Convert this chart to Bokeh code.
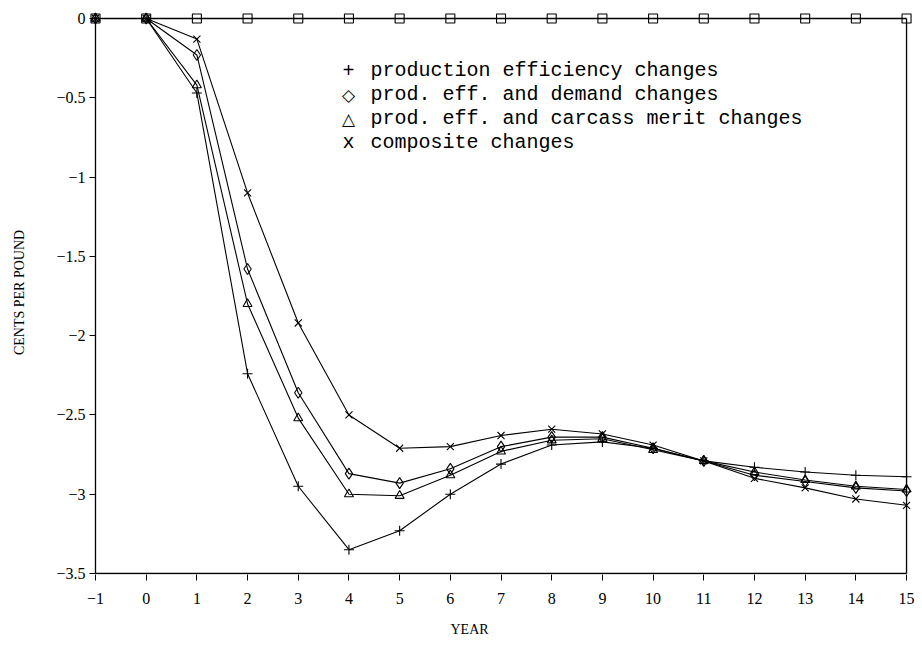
from bokeh.plotting import figure
from bokeh.models import Range1d, FixedTicker, Label, Title
from bokeh.embed import file_html
from bokeh.resources import INLINE

years = list(range(-1, 16))
prod_eff = [0, 0, -0.47, -2.24, -2.95, -3.35, -3.23, -3.00, -2.81, -2.69, -2.67, -2.71, -2.79, -2.83, -2.86, -2.88, -2.89]
prod_demand = [0, 0, -0.23, -1.58, -2.36, -2.87, -2.93, -2.84, -2.70, -2.64, -2.64, -2.71, -2.79, -2.88, -2.92, -2.96, -2.98]
prod_carcass = [0, 0, -0.42, -1.80, -2.52, -3.00, -3.01, -2.88, -2.73, -2.66, -2.65, -2.72, -2.79, -2.86, -2.91, -2.95, -2.97]
composite = [0, 0, -0.13, -1.10, -1.92, -2.50, -2.71, -2.70, -2.63, -2.59, -2.62, -2.69, -2.79, -2.90, -2.96, -3.03, -3.07]
baseline = [0] * 17

x_ticks = list(range(-1, 16))
x_labels = ["\u22121"] + [str(v) for v in range(0, 16)]
y_ticks = [0, -0.5, -1, -1.5, -2, -2.5, -3, -3.5]
y_labels = ["0", "\u22120.5", "\u22121", "\u22121.5", "\u22122", "\u22122.5", "\u22123", "\u22123.5"]

legend_symbols = ["+", "\u25C7", "\u25B3", "x"]
legend_texts = ["production efficiency changes", "prod. eff. and demand changes",
                "prod. eff. and carcass merit changes", "composite changes"]

xs, ys = 50.69, 158.57
x0 = -1 - 6 / xs
x1 = x0 + 823 / xs
y1 = 8 / ys
y0 = y1 - 564 / ys

p = figure(frame_width=823, frame_height=564, min_border_left=89, min_border_right=8,
           min_border_top=10, min_border_bottom=75,
           x_range=Range1d(x0, x1), y_range=Range1d(y0, y1),
           output_backend="svg", toolbar_location=None)
p.outline_line_color = None
p.grid.grid_line_color = None
p.background_fill_color = "white"

serif = "Liberation Serif"
for ax in (p.xaxis[0], p.yaxis[0]):
    ax.axis_line_color = None
    ax.minor_tick_line_color = None
    ax.major_tick_line_color = "black"
    ax.major_label_text_font = serif
    ax.major_label_text_font_size = "16px"
    ax.major_label_text_color = "black"

p.xaxis.ticker = FixedTicker(ticks=x_ticks)
p.xaxis.major_label_overrides = {t: l for t, l in zip(x_ticks, x_labels)}
p.xaxis.major_tick_out = 6
p.xaxis.major_tick_in = 0
p.xaxis.major_label_standoff = 12

p.yaxis.ticker = FixedTicker(ticks=y_ticks)
p.yaxis.major_label_overrides = {t: l for t, l in zip(y_ticks, y_labels)}
p.yaxis.major_tick_out = 0
p.yaxis.major_tick_in = 6
p.yaxis.major_label_standoff = 4
p.yaxis.axis_label = "CENTS PER POUND"
p.yaxis.axis_label_text_font = serif
p.yaxis.axis_label_text_font_size = "14px"
p.yaxis.axis_label_text_font_style = "normal"
p.yaxis.axis_label_text_color = "black"
p.yaxis.axis_label_standoff = 26

p.add_layout(Title(text="YEAR", align="left", offset=361, standoff=30, vertical_align="top",
                   text_font=serif, text_font_size="14px", text_font_style="normal",
                   text_color="black"), "below")

# frame box
xmin, xmax = years[0], years[-1]
p.line([xmin, xmin], [y_ticks[-1], 0], line_color="black", line_width=1.3)
p.line([xmax, xmax], [y_ticks[-1], 0], line_color="black", line_width=1.3)
p.line([xmin, xmax], [y_ticks[-1], y_ticks[-1]], line_color="black", line_width=1.3)

lw = 1.1
p.line(years, baseline, line_color="black", line_width=1.3)
p.scatter(years, baseline, marker="square", size=9, fill_color=None, line_color="black", line_width=1.1)

p.line(years, prod_eff, line_color="black", line_width=lw)
p.scatter(years, prod_eff, marker="cross", size=10, line_color="black", line_width=1.1)

p.line(years, prod_demand, line_color="black", line_width=lw)
p.scatter(years, prod_demand, marker="diamond", size=11, fill_color=None, line_color="black", line_width=1.1)

p.line(years, prod_carcass, line_color="black", line_width=lw)
p.scatter(years, prod_carcass, marker="triangle", size=9, fill_color=None, line_color="black", line_width=1.1)

p.line(years, composite, line_color="black", line_width=lw)
p.scatter(years, composite, marker="x", size=10, line_color="black", line_width=1.1)

# legend (text)
sym_x = (348 - 95) / xs - 1
txt_x = (370 - 95) / xs - 1
for i, (s, t) in enumerate(zip(legend_symbols, legend_texts)):
    yy = -((70 + 24 * i) - 18) / ys
    p.add_layout(Label(x=sym_x, y=yy, text=s, text_font="DejaVu Sans" if i in (1, 2) else "Liberation Mono",
                       text_font_size="17px" if i in (1, 2) else "20px",
                       text_align="center", text_baseline="middle", text_color="black"))
    p.add_layout(Label(x=txt_x, y=yy, text=t, text_font="Liberation Mono", text_font_size="20px",
                       text_align="left", text_baseline="middle", text_color="black"))

open("out.html", "w").write(file_html(p, INLINE))
